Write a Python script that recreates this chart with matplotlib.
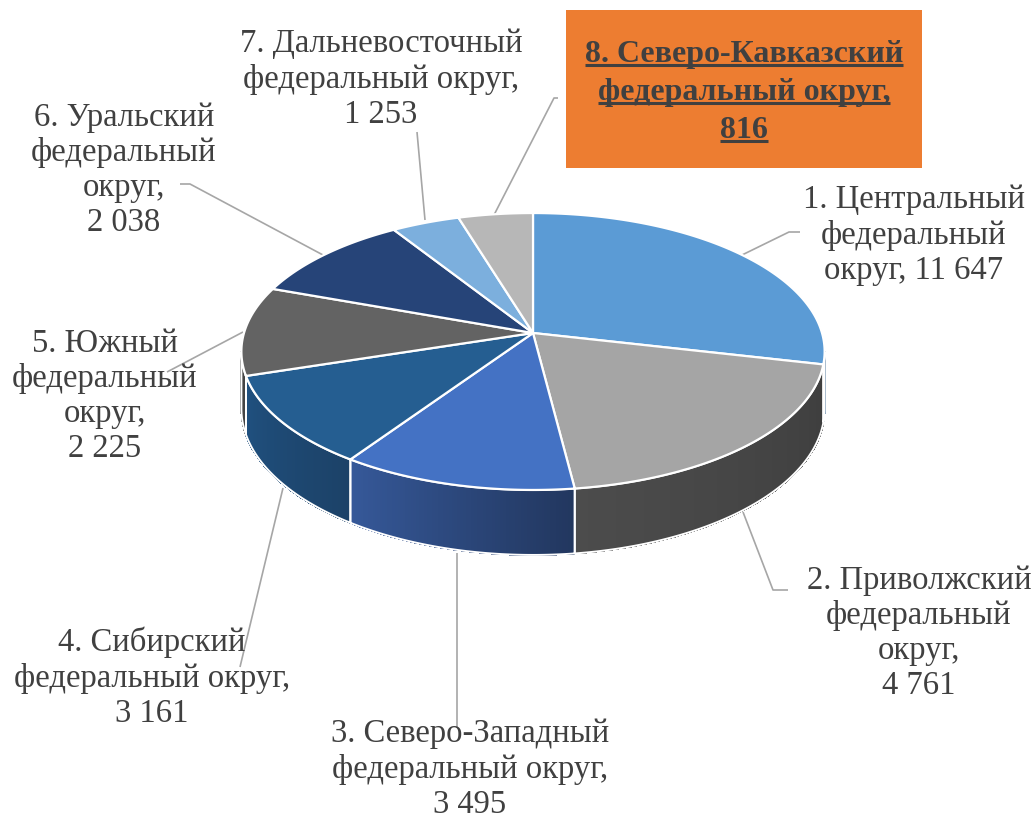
import numpy as np
import matplotlib
matplotlib.use("Agg")
import matplotlib.pyplot as plt
from matplotlib.patches import Polygon, Rectangle
from matplotlib.collections import PolyCollection
from matplotlib.colors import to_rgb

# ---------------- data ----------------
labels = [
    "1. Центральный\nфедеральный\nокруг, 11 647",
    "2. Приволжский\nфедеральный\nокруг,\n4 761",
    "3. Северо-Западный\nфедеральный округ,\n3 495",
    "4. Сибирский\nфедеральный округ,\n3 161",
    "5. Южный\nфедеральный\nокруг,\n2 225",
    "6. Уральский\nфедеральный\nокруг,\n2 038",
    "7. Дальневосточный\nфедеральный округ,\n1 253",
    "8. Северо-Кавказский\nфедеральный округ,\n816",
]
values = [11647, 4761, 3495, 3161, 2225, 2038, 1253, 816]
# slice shares (% of the circle) as drawn in the reference 3-D pie
slice_shares = [28.6, 19.4, 11.5, 10.6, 10.4, 10.5, 4.3, 4.7]

# ---------------- style ----------------
top_colors = ["#5b9bd5", "#a5a5a5", "#4472c4", "#255e91",
              "#636363", "#264478", "#7cafdd", "#b7b7b7"]
wall_colors = [("#3e6f9c", "#355f88"), ("#4c4c4c", "#3e3e3e"),
               ("#36599a", "#22375f"), ("#205180", "#1c4268"),
               ("#4a4a4a", "#444444"), ("#1c3257", "#1a2d4f"),
               ("#5a84aa", "#557ea3"), ("#8a8a8a", "#848484")]
text_color = "#404040"
line_color = "#a6a6a6"
FONT = "Liberation Serif"
FS = 23.5

W, H = 1036, 823
fig = plt.figure(figsize=(W / 100, H / 100), dpi=100)
ax = fig.add_axes([0, 0, 1, 1])
ax.set_xlim(0, W)
ax.set_ylim(H, 0)
ax.axis("off")

# perspective projection of the pie (layout constants)
CX, A, B, C, K, D0 = 533.0, 333.0, 91.5, -0.1336, 289.0, 56.3


def proj(phi_deg, depth=0.0):
    phi = np.radians(phi_deg)
    x = np.cos(phi)
    z = -np.sin(phi)
    den = 1 + C * z
    X = CX + K * x / den
    Y = (A + B * z) / den + depth * D0 / den
    return X, Y


angles = [90.0]
for s in slice_shares:
    angles.append(angles[-1] - s / sum(slice_shares) * 360.0)

phi_right = np.degrees(np.arcsin(C))
phi_left = -180.0 - phi_right

# walls
for i in range(len(values)):
    a0, a1 = angles[i], angles[i + 1]
    hi, lo = min(a0, phi_right), max(a1, phi_left)
    if hi <= lo:
        continue
    n = max(int((hi - lo) * 2), 2)
    ph = np.linspace(lo, hi, n + 1)
    cl, cr = np.array(to_rgb(wall_colors[i][0])), np.array(to_rgb(wall_colors[i][1]))
    polys, cols = [], []
    for j in range(n):
        p0, p1 = ph[j], ph[j + 1]
        xt0, yt0 = proj(p0)
        xt1, yt1 = proj(p1)
        xb0, yb0 = proj(p0, 1)
        xb1, yb1 = proj(p1, 1)
        polys.append([(xt0, yt0), (xt1, yt1), (xb1, yb1), (xb0, yb0)])
        t = (0.5 * (p0 + p1) - lo) / (hi - lo)
        cols.append(tuple(cl * (1 - t) + cr * t))
    pc = PolyCollection(polys, facecolors=cols, edgecolors=cols, linewidths=0.8,
                        antialiased=False, zorder=2)
    ax.add_collection(pc)
    arc = np.linspace(lo, hi, 200)
    xt, yt = proj(arc)
    xb, yb = proj(arc[::-1], 1)
    outline = np.column_stack([np.concatenate([xt, xb]), np.concatenate([yt, yb])])
    ax.add_patch(Polygon(outline, closed=True, fill=False, edgecolor="white",
                         linewidth=1.4, zorder=3))

# top face
for i in range(len(values)):
    a0, a1 = angles[i], angles[i + 1]
    arc = np.linspace(a0, a1, 300)
    xs, ys = proj(arc)
    pts = np.column_stack([np.concatenate([[CX], xs]), np.concatenate([[A], ys])])
    ax.add_patch(Polygon(pts, closed=True, facecolor=top_colors[i], edgecolor="white",
                         linewidth=1.6, joinstyle="miter", zorder=4))

# leader lines
leaders = [
    [(800, 232), (789, 232), (742, 255)],
    [(743, 512), (773, 590), (788, 590)],
    [(457, 728), (457, 553)],
    [(240, 667), (283, 488)],
    [(167, 372), (243, 332)],
    [(180, 184), (190, 184), (323, 255)],
    [(417, 132), (425, 220)],
    [(558, 98), (554, 98), (494, 215)],
]
for pts in leaders:
    xs, ys = zip(*pts)
    ax.plot(xs, ys, color=line_color, lw=1.2, zorder=1, solid_capstyle="butt")

# labels
label_pos = [(914, 235), (919, 633), (470, 769), (152, 678),
             (105, 396), (124, 170), (381, 79)]
for i, (x, y) in enumerate(label_pos):
    ax.text(x, y, labels[i], ha="center", va="center", multialignment="center",
            fontsize=FS, family=FONT, color=text_color, linespacing=1.19, zorder=6)

# highlighted label 8
ax.add_patch(Rectangle((566, 10), 356, 158, facecolor="#ed7d31", edgecolor="none", zorder=5))
box_lines = labels[7].split("\n")
baselines = [62, 100, 138]
txts = []
for ln, yb in zip(box_lines, baselines):
    txts.append(ax.text(744, yb, ln, ha="center", va="baseline", fontsize=23,
                        family=FONT, weight="bold", color=text_color, zorder=6))
fig.canvas.draw()
r = fig.canvas.get_renderer()
inv = ax.transData.inverted()
for t, yb in zip(txts, baselines):
    bb = t.get_window_extent(r)
    (x0, _), (x1, _) = inv.transform([(bb.x0, bb.y0), (bb.x1, bb.y1)])
    ax.plot([x0, x1], [yb + 3, yb + 3], color=text_color, lw=2.2, zorder=6,
            solid_capstyle="butt")

fig.savefig("out.png", dpi=100, facecolor="white")
